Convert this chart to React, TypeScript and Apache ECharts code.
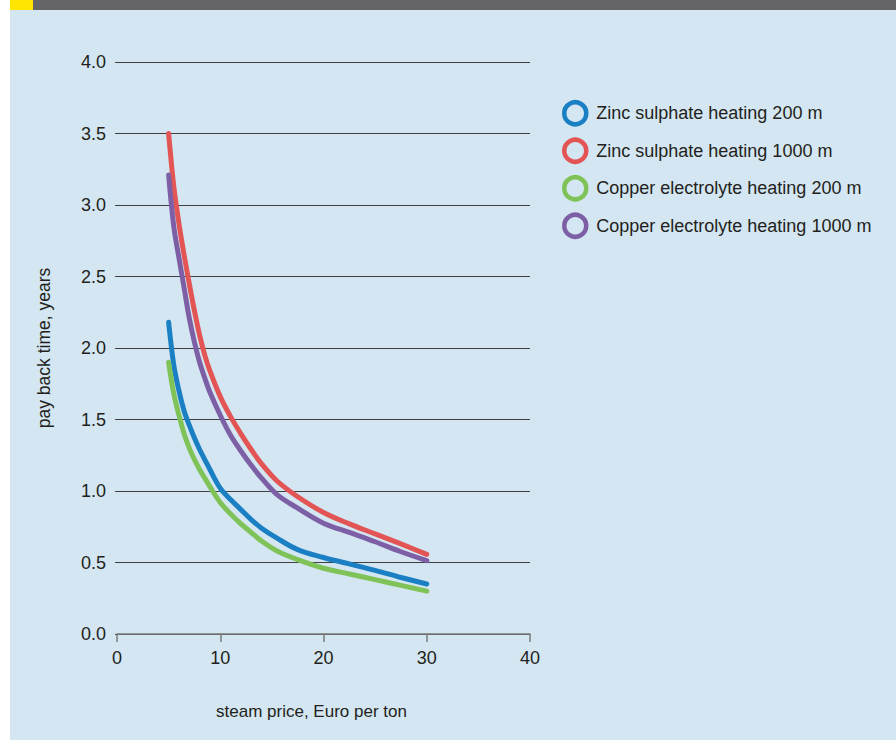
import React, { useEffect, useRef } from "react";
import * as echarts from "echarts";

const steamPrice = [5, 5.5, 6, 6.5, 7, 7.5, 8, 8.5, 9, 10, 11, 12, 13, 14, 15.5, 17.5, 20, 22.5, 25, 27.5, 30];
const zinc200 = [2.18, 1.88, 1.7, 1.56, 1.46, 1.37, 1.29, 1.22, 1.15, 1.02, 0.94, 0.87, 0.8, 0.74, 0.67, 0.59, 0.535, 0.49, 0.445, 0.395, 0.35];
const zinc1000 = [3.5, 3.13, 2.87, 2.65, 2.45, 2.26, 2.09, 1.95, 1.84, 1.66, 1.52, 1.4, 1.29, 1.19, 1.07, 0.96, 0.85, 0.77, 0.7, 0.63, 0.557];
const copper200 = [1.9, 1.68, 1.53, 1.4, 1.3, 1.22, 1.15, 1.09, 1.03, 0.92, 0.84, 0.77, 0.71, 0.65, 0.58, 0.52, 0.46, 0.42, 0.38, 0.34, 0.3];
const copper1000 = [3.21, 2.85, 2.63, 2.42, 2.21, 2.04, 1.9, 1.79, 1.69, 1.53, 1.39, 1.28, 1.18, 1.09, 0.975, 0.88, 0.775, 0.71, 0.645, 0.575, 0.513];

const seriesNames = [
  "Zinc sulphate heating 200 m",
  "Zinc sulphate heating 1000 m",
  "Copper electrolyte heating 200 m",
  "Copper electrolyte heating 1000 m",
];
const seriesValues = [zinc200, zinc1000, copper200, copper1000];
const seriesColors = ["#1b7fc4", "#e35454", "#7fc257", "#7d5fa6"];

const xTicks = { min: 0, max: 40, interval: 10 };
const yTicks = { min: 0, max: 4, interval: 0.5 };
const xTitle = "steam price, Euro per ton";
const yTitle = "pay back time, years";

const FONT = "'Liberation Sans Narrow', 'Liberation Sans', Arial, sans-serif";
const TEXT = "#231f20";

export default function App() {
  const ref = useRef<HTMLDivElement>(null);
  useEffect(() => {
    const chart = echarts.init(ref.current!, null, { renderer: "svg" });
    chart.setOption({
      animation: false,
      backgroundColor: "#ffffff",
      graphic: [
        { type: "rect", z: -10, shape: { x: 10, y: 10, width: 886, height: 730 }, style: { fill: "#d3e6f1" } },
        { type: "rect", z: -10, shape: { x: 33, y: 0, width: 863, height: 10 }, style: { fill: "#656567" } },
        { type: "rect", z: -10, shape: { x: 10, y: 0, width: 23, height: 10 }, style: { fill: "#ffe500" } },
      ],
      grid: { left: 117, right: 366, top: 62, bottom: 106 },
      legend: {
        orient: "vertical",
        left: 562,
        top: 100,
        padding: 0,
        itemWidth: 22,
        itemHeight: 22,
        itemGap: 11,
        icon: "circle",
        textStyle: { fontFamily: FONT, fontSize: 18, color: TEXT, padding: [0, 0, 0, 5] },
        data: seriesNames.map((n, i) => ({
          name: n,
          icon: "circle",
          itemStyle: { color: "rgba(0,0,0,0)", borderColor: seriesColors[i], borderWidth: 4.5 },
        })),
      },
      xAxis: {
        type: "value",
        min: xTicks.min,
        max: xTicks.max,
        interval: xTicks.interval,
        name: xTitle,
        nameLocation: "middle",
        nameGap: 69,
        nameTextStyle: { fontFamily: FONT, fontSize: 17, color: TEXT, padding: [0, 24, 0, 0] },
        axisLine: { show: true, lineStyle: { color: "#7a7a7a", width: 1.5 } },
        axisTick: { show: true, length: 8, lineStyle: { color: "#7a7a7a", width: 1.5 } },
        axisLabel: { fontFamily: FONT, fontSize: 18, color: TEXT, margin: 15 },
        splitLine: { show: false },
      },
      yAxis: {
        type: "value",
        min: yTicks.min,
        max: yTicks.max,
        interval: yTicks.interval,
        name: yTitle,
        nameLocation: "middle",
        nameGap: 64,
        nameRotate: 90,
        nameTextStyle: { fontFamily: FONT, fontSize: 17.5, color: TEXT },
        axisLine: { show: false },
        axisTick: { show: true, length: 2, lineStyle: { color: "#404040" } },
        axisLabel: {
          fontFamily: FONT,
          fontSize: 18,
          color: TEXT,
          margin: 11,
          formatter: (v: number) => v.toFixed(1),
        },
        splitLine: { show: true, lineStyle: { color: "#404040", width: 1 } },
      },
      series: seriesNames.map((n, i) => ({
        name: n,
        type: "line",
        data: steamPrice.map((x, j) => [x, seriesValues[i][j]]),
        showSymbol: false,
        smooth: 0.35,
        color: seriesColors[i],
        lineStyle: { width: 5, color: seriesColors[i], cap: "round", join: "round" },
      })),
    });
    return () => chart.dispose();
  }, []);
  return <div ref={ref} style={{ position: "fixed", left: 0, top: 0, width: 896, height: 740 }} />;
}
